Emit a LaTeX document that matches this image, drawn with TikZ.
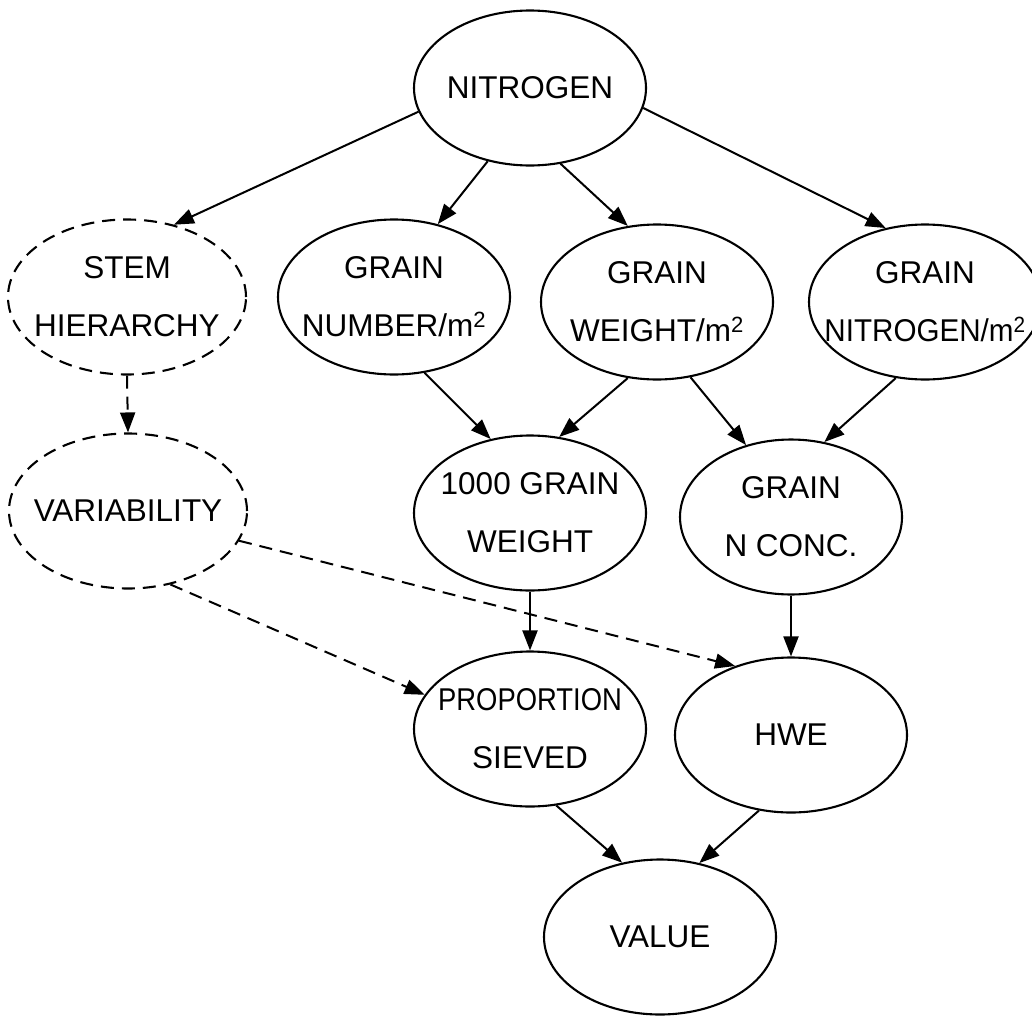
\documentclass[tikz,border=0pt]{standalone}
\usepackage{fontspec}
\usepackage{graphicx}
\setmainfont{Liberation Sans}
\usetikzlibrary{shapes.geometric,arrows.meta}
\begin{document}
\begin{tikzpicture}[x=1pt,y=-1pt,
  ell/.style={draw, ellipse, line width=2.1pt, minimum width=232pt, minimum height=155pt, inner sep=0pt},
  dell/.style={ell, dash pattern=on 13pt off 8pt},
  lbl/.style={align=center, font=\fontsize{31.5}{58}\selectfont, inner sep=0pt},
  arr/.style={line width=2pt, -{Triangle[length=20pt,width=15pt]}},
  darr/.style={arr, dash pattern=on 13pt off 8pt}
]
\useasboundingbox (0,0) rectangle (1032,1017);
\clip (0,0) rectangle (1032,1017);

\node[ell, label={[lbl]center:NITROGEN}] (nit) at (530,88) {};
\node[dell, minimum width=238pt, label={[lbl]center:{STEM\\HIERARCHY}}] (stem) at (127,297) {};
\node[ell, label={[lbl]center:{GRAIN\\NUMBER/m\textsuperscript{2}}}] (num) at (394,297) {};
\node[ell, label={[lbl]center:{GRAIN\\WEIGHT/m\textsuperscript{2}}}] (wt) at (657,302) {};
\node[ell, label={[lbl]center:{GRAIN\\\scalebox{0.94}[1]{NITROGEN/m\textsuperscript{2}}}}] (gn) at (925,302) {};
\node[dell, minimum width=238pt, label={[lbl]center:VARIABILITY}] (var) at (128,511) {};
\node[ell, label={[lbl]center:{1000 GRAIN\\WEIGHT}}] (tgw) at (530,513) {};
\node[ell, minimum width=222pt, label={[lbl]center:{GRAIN\\N CONC.}}] (conc) at (791,517) {};
\node[ell, label={[lbl]center:{\scalebox{0.87}[1]{PROPORTION}\\SIEVED}}] (prop) at (530,729) {};
\node[ell, label={[lbl]center:HWE}] (hwe) at (791,735) {};
\node[ell, label={[lbl]center:VALUE}] (val) at (660,937) {};

\draw[arr] (nit.192) -- (stem.57);
\draw[arr] (nit.240) -- (num.59);
\draw[arr] (nit.292) -- (wt.111);
\draw[arr] (nit.350) -- (gn.118);
\draw[darr] (stem.south) -- (var.north);
\draw[arr] (num.292) -- (tgw.118);
\draw[arr] (wt.249) -- (tgw.69);
\draw[arr] (wt.294) -- (conc.122);
\draw[arr] (gn.249) -- (conc.66);
\draw[arr] (tgw.south) -- (prop.north);
\draw[arr] (conc.south) -- (hwe.north);
\draw[darr] (var.345) -- (hwe.129);
\draw[darr] (var.300) -- (prop.162);
\draw[arr] (prop.289) -- (val.117);
\draw[arr] (hwe.247) -- (val.62);
\end{tikzpicture}
\end{document}
